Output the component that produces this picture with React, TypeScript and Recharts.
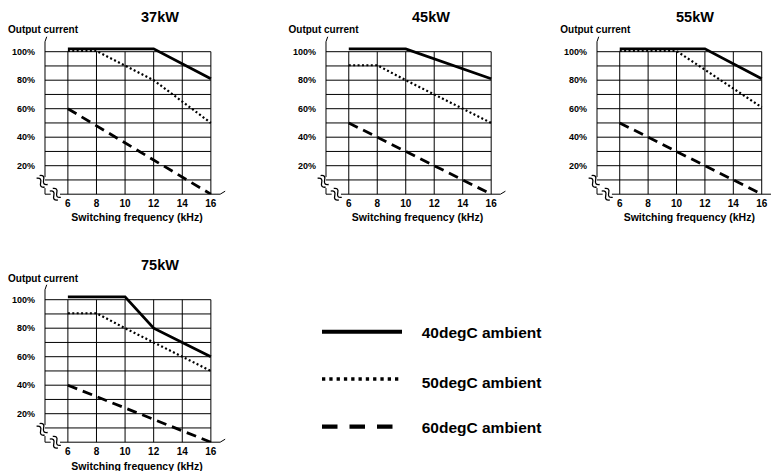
import { LineChart, Line, XAxis, YAxis, ReferenceLine, ReferenceDot } from 'recharts';

const FONT = '"Liberation Sans", Arial, sans-serif';

// axis ticks
const freqTicks = [6, 8, 10, 12, 14, 16];
const currentTicks = [20, 40, 60, 80, 100];
const gridLevels = [10, 20, 30, 40, 50, 60, 70, 80, 90, 100];

// derating curves (kHz -> % of rated current)
const kw37Amb40 = [{ f: 6, pct: 102 }, { f: 12, pct: 102 }, { f: 16, pct: 81 }];
const kw37Amb50 = [{ f: 6, pct: 100.5 }, { f: 8, pct: 100.5 }, { f: 12, pct: 80 }, { f: 16, pct: 50 }];
const kw37Amb60 = [{ f: 6, pct: 60 }, { f: 16, pct: 0 }];

const kw45Amb40 = [{ f: 6, pct: 102 }, { f: 10, pct: 102 }, { f: 16, pct: 81 }];
const kw45Amb50 = [{ f: 6, pct: 90.5 }, { f: 8, pct: 90.5 }, { f: 10, pct: 80 }, { f: 16, pct: 50 }];
const kw45Amb60 = [{ f: 6, pct: 50 }, { f: 16, pct: 0 }];

const kw55Amb40 = [{ f: 6, pct: 102 }, { f: 12, pct: 102 }, { f: 16, pct: 81 }];
const kw55Amb50 = [{ f: 6, pct: 100.5 }, { f: 10, pct: 100.5 }, { f: 16, pct: 61 }];
const kw55Amb60 = [{ f: 6, pct: 50 }, { f: 16, pct: 0 }];

const kw75Amb40 = [{ f: 6, pct: 102 }, { f: 10, pct: 102 }, { f: 12, pct: 80 }, { f: 14, pct: 70 }, { f: 16, pct: 60 }];
const kw75Amb50 = [{ f: 6, pct: 90.5 }, { f: 8, pct: 90.5 }, { f: 10, pct: 80 }, { f: 16, pct: 50 }];
const kw75Amb60 = [{ f: 6, pct: 40 }, { f: 16, pct: 0 }];

const ambientNames = ['40degC ambient', '50degC ambient', '60degC ambient'];

// line looks: solid / dotted / dashed
const lineStyles = [
  { width: 2.8, dash: undefined, legendWidth: 4, legendDash: undefined },
  { width: 2.2, dash: '2 2.4', legendWidth: 3.3, legendDash: '3.3 4' },
  { width: 2.8, dash: '10 6', legendWidth: 4.2, legendDash: '15.5 12' },
];

const X_MIN = 4.4;
const X_MAX = 16.7;
const Y_MAX = 110;
const Y_AXIS_W = 45;
const PX_PER_PCT = 1.425;
const TOP_PAD = 37.45;
const X_AXIS_H = 30;

const panels = [
  { title: '37kW', curves: [kw37Amb40, kw37Amb50, kw37Amb60], axisX: 45, zeroY: 194.2, kx: 14.3, titleX: 160 },
  { title: '45kW', curves: [kw45Amb40, kw45Amb50, kw45Amb60], axisX: 325.5, zeroY: 194.2, kx: 14.24, titleX: 431 },
  { title: '55kW', curves: [kw55Amb40, kw55Amb50, kw55Amb60], axisX: 597.3, zeroY: 194.2, kx: 14.2, titleX: 695 },
  { title: '75kW', curves: [kw75Amb40, kw75Amb50, kw75Amb60], axisX: 45, zeroY: 442.5, kx: 14.3, titleX: 160 },
];

function BreakMark(props: any) {
  const { cx, cy } = props;
  const wave = 'M -6 0 q 3 -4.5 6 0 t 6 0';
  return (
    <g transform={`translate(${cx},${cy}) rotate(48)`} fill="none" stroke="#000" strokeWidth={1.3}>
      <path d={wave} transform="translate(0,-2)" />
      <path d={wave} transform="translate(0,2)" />
    </g>
  );
}

const tickStyle = { fontWeight: 'bold', fill: '#000', fontFamily: FONT };

function Panel({ p }: { p: any }) {
  const plotW = (X_MAX - X_MIN) * p.kx;
  const plotH = Y_MAX * PX_PER_PCT;
  const width = Y_AXIS_W + plotW + 14;
  const height = TOP_PAD + plotH + X_AXIS_H;
  const axis = { stroke: '#000', strokeWidth: 1, ifOverflow: 'visible' as const };

  return (
    <div style={{ position: 'absolute', left: p.axisX - Y_AXIS_W, top: p.zeroY - TOP_PAD - plotH }}>
      <LineChart width={width} height={height} margin={{ top: TOP_PAD, right: 14, bottom: 0, left: 0 }}>
        <XAxis
          type="number"
          dataKey="f"
          domain={[X_MIN, X_MAX]}
          allowDataOverflow
          ticks={freqTicks}
          interval={0}
          height={X_AXIS_H}
          axisLine={false}
          tickLine={false}
          tickSize={4}
          tickMargin={2}
          tick={{ ...tickStyle, fontSize: 10 }}
        />
        <YAxis
          type="number"
          domain={[0, Y_MAX]}
          allowDataOverflow
          ticks={currentTicks}
          interval={0}
          width={Y_AXIS_W}
          axisLine={false}
          tickLine={false}
          tickSize={6}
          tickMargin={4}
          tickFormatter={(v: number) => `${v}%`}
          tick={{ ...tickStyle, fontSize: 9 }}
        />
        {gridLevels.map((l) => (
          <ReferenceLine key={'h' + l} segment={[{ x: X_MIN, y: l }, { x: 16, y: l }]} {...axis} />
        ))}
        {freqTicks.map((f) => (
          <ReferenceLine key={'v' + f} segment={[{ x: f, y: 0 }, { x: f, y: 100 }]} {...axis} />
        ))}
        {/* broken axes */}
        <ReferenceLine segment={[{ x: X_MIN, y: 0 }, { x: X_MIN, y: 4.3 }]} {...axis} />
        <ReferenceLine segment={[{ x: X_MIN, y: 12 }, { x: X_MIN, y: 107 }]} {...axis} />
        <ReferenceLine segment={[{ x: X_MIN, y: 107 }, { x: 4.52, y: 110.5 }]} {...axis} />
        <ReferenceLine segment={[{ x: X_MIN, y: 0 }, { x: 4.8, y: 0 }]} {...axis} />
        <ReferenceLine segment={[{ x: 5.45, y: 0 }, { x: 16.65, y: 0 }]} {...axis} />
        <ReferenceLine segment={[{ x: 16.65, y: 0 }, { x: 17.0, y: 2.1 }]} {...axis} />
        <ReferenceDot x={4.2} y={9} r={0} shape={BreakMark} ifOverflow="visible" />
        <ReferenceDot x={5.12} y={0} r={0} shape={BreakMark} ifOverflow="visible" />
        {p.curves.map((c: any, i: number) => (
          <Line
            key={i}
            data={c}
            dataKey="pct"
            name={ambientNames[i]}
            type="linear"
            stroke="#000"
            strokeWidth={lineStyles[i].width}
            strokeDasharray={lineStyles[i].dash}
            dot={false}
            activeDot={false}
            isAnimationActive={false}
          />
        ))}
      </LineChart>
    </div>
  );
}

export default function App() {
  const legendY = [331.7, 379, 426.7];
  const legendTextY = [338.3, 388.3, 433.3];
  return (
    <div style={{ position: 'absolute', left: 0, top: 0, width: 771, height: 471, background: '#fff', overflow: 'hidden', fontFamily: FONT }}>
      {panels.map((p) => (
        <Panel key={p.title} p={p} />
      ))}
      <svg width={771} height={471} style={{ position: 'absolute', left: 0, top: 0, pointerEvents: 'none' }}>
        {panels.map((p) => (
          <g key={p.title} fontFamily={FONT} fontWeight="bold" fill="#000">
            <text x={p.titleX} y={p.zeroY - 172.5} fontSize={14.5} textAnchor="middle">{p.title}</text>
            <text x={p.axisX - 37} y={p.zeroY - 161} fontSize={10}>Output current</text>
            <text x={p.axisX + 92} y={p.zeroY + 27} fontSize={10.5} textAnchor="middle">Switching frequency (kHz)</text>
          </g>
        ))}
        {ambientNames.map((n, i) => (
          <g key={n}>
            <line
              x1={322}
              x2={402}
              y1={legendY[i]}
              y2={legendY[i]}
              stroke="#000"
              strokeWidth={lineStyles[i].legendWidth}
              strokeDasharray={lineStyles[i].legendDash}
            />
            <text x={421.7} y={legendTextY[i]} fontSize={15.5} fontWeight="bold" fontFamily={FONT} fill="#000">{n}</text>
          </g>
        ))}
      </svg>
    </div>
  );
}
